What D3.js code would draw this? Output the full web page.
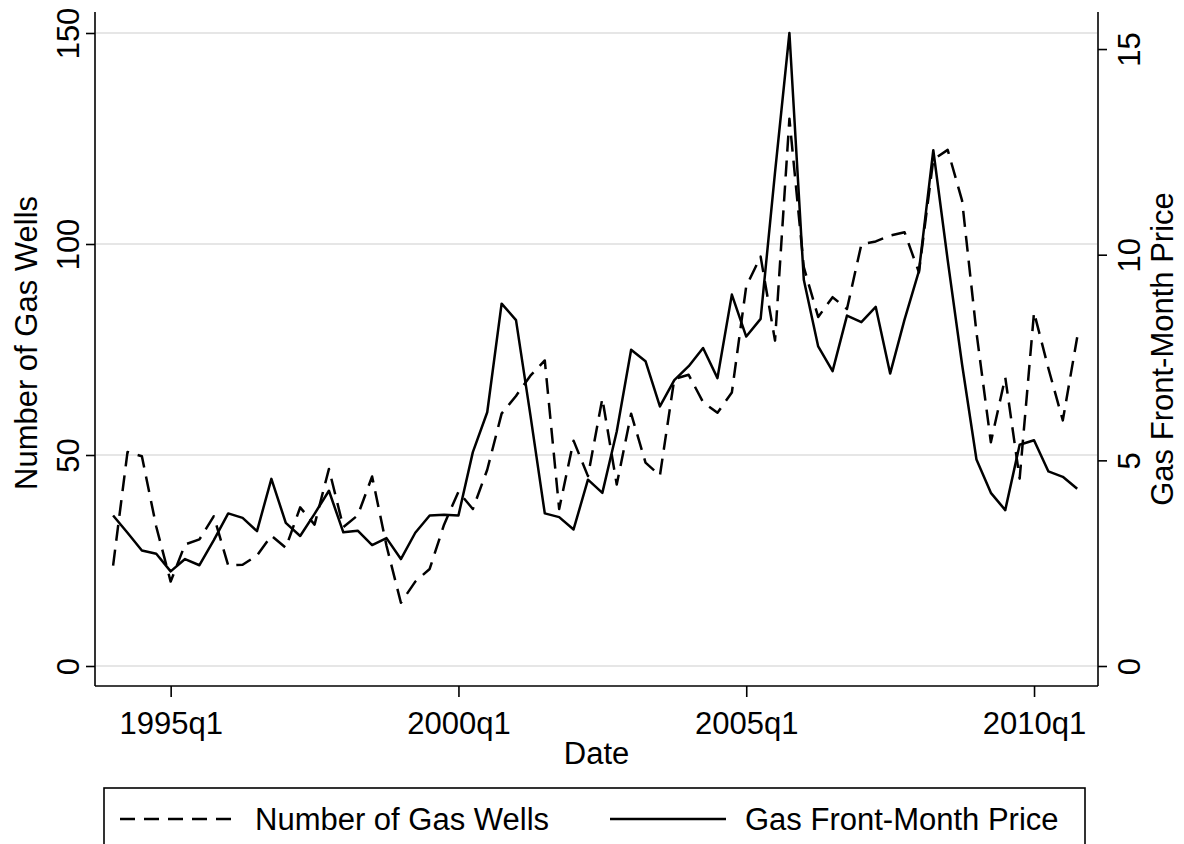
<!DOCTYPE html>
<html>
<head>
<meta charset="utf-8">
<script src="https://cdn.jsdelivr.net/npm/d3@7"></script>
<style>
  html, body { margin: 0; padding: 0; background: #ffffff; }
  svg { display: block; }
  text { font-family: "Liberation Sans", Arial, sans-serif; fill: #000; }
</style>
</head>
<body>
<svg id="chart" width="1184" height="844"></svg>
<script>
// ---------------- DATA ----------------
const quarters = [
  "1994q1","1994q2","1994q3","1994q4","1995q1","1995q2","1995q3","1995q4",
  "1996q1","1996q2","1996q3","1996q4","1997q1","1997q2","1997q3","1997q4",
  "1998q1","1998q2","1998q3","1998q4","1999q1","1999q2","1999q3","1999q4",
  "2000q1","2000q2","2000q3","2000q4","2001q1","2001q2","2001q3","2001q4",
  "2002q1","2002q2","2002q3","2002q4","2003q1","2003q2","2003q3","2003q4",
  "2004q1","2004q2","2004q3","2004q4","2005q1","2005q2","2005q3","2005q4",
  "2006q1","2006q2","2006q3","2006q4","2007q1","2007q2","2007q3","2007q4",
  "2008q1","2008q2","2008q3","2008q4","2009q1","2009q2","2009q3","2009q4",
  "2010q1","2010q2","2010q3","2010q4"
];

// Number of Gas Wells (left axis)
const gasWells = [
  23.8, 50.7, 49.7, 33.0, 20.0, 28.8, 30.0, 35.5,
  23.8, 24.0, 26.2, 30.9, 28.0, 37.6, 33.5, 46.7,
  32.9, 35.7, 44.9, 28.5, 15.0, 20.0, 23.0, 33.5,
  41.3, 37.2, 46.5, 59.8, 64.0, 68.8, 72.4, 37.2,
  53.4, 45.0, 63.4, 43.0, 59.8, 48.2, 45.1, 68.0,
  69.0, 62.5, 60.0, 64.8, 90.0, 97.0, 77.1, 129.7,
  94.5, 82.7, 87.4, 84.6, 99.9, 100.6, 102.0, 102.8,
  93.3, 120.0, 122.3, 110.3, 79.0, 53.0, 68.4, 44.4,
  83.8, 70.5, 58.2, 77.9
];

// Gas Front-Month Price (right axis)
const gasPrice = [
  3.66, 3.24, 2.81, 2.73, 2.30, 2.60, 2.45, 3.06,
  3.71, 3.60, 3.28, 4.55, 3.48, 3.16, 3.70, 4.26,
  3.25, 3.29, 2.94, 3.11, 2.60, 3.24, 3.66, 3.68,
  3.66, 5.20, 6.17, 8.81, 8.41, 6.10, 3.71, 3.62,
  3.32, 4.53, 4.21, 5.70, 7.69, 7.41, 6.31, 6.95,
  7.29, 7.73, 7.00, 9.03, 8.01, 8.44, 12.00, 15.39,
  9.39, 7.77, 7.17, 8.52, 8.36, 8.73, 7.11, 8.42,
  9.60, 12.54, 9.87, 7.33, 5.02, 4.21, 3.79, 5.38,
  5.49, 4.73, 4.60, 4.31
];

const xTickLabels = ["1995q1", "2000q1", "2005q1", "2010q1"];
const leftTicks = [0, 50, 100, 150];
const rightTicks = [0, 5, 10, 15];

const seriesNames = ["Number of Gas Wells", "Gas Front-Month Price"];
const xTitle = "Date";
const leftTitle = "Number of Gas Wells";
const rightTitle = "Gas Front-Month Price";

// ---------------- LAYOUT ----------------
const FS = 31;
const plot = { left: 95, right: 1098, top: 12, bottom: 686 };
const dataTop = 33, dataBottom = 666;

const svg = d3.select("#chart");

const x = d3.scaleLinear()
  .domain([0, quarters.length - 1])
  .range([113.1, 1077.2]);

const yL = d3.scaleLinear().domain([0, 150]).range([dataBottom, dataTop]);
const yR = d3.scaleLinear().domain([0, d3.max(gasPrice)]).range([dataBottom, dataTop]);

// gridlines
svg.append("g")
  .selectAll("line")
  .data(leftTicks)
  .join("line")
  .attr("x1", plot.left + 1).attr("x2", plot.right - 1)
  .attr("y1", d => yL(d)).attr("y2", d => yL(d))
  .attr("stroke", "#e6e6e6").attr("stroke-width", 2);

// left axis
const gL = svg.append("g").attr("transform", `translate(${plot.left},0)`)
  .call(d3.axisLeft(yL).tickValues(leftTicks).tickSize(9).tickSizeOuter(0));
gL.select(".domain").remove();
gL.append("line").attr("x1", 0).attr("x2", 0).attr("y1", plot.top).attr("y2", plot.bottom)
  .attr("stroke", "#000").attr("stroke-width", 1.6);
gL.selectAll(".tick line").attr("stroke", "#000").attr("stroke-width", 1.6);
gL.selectAll(".tick text")
  .attr("x", 0).attr("y", -16).attr("dy", 0)
  .attr("text-anchor", "middle")
  .attr("transform", "rotate(-90)")
  .style("font-size", FS + "px").style("font-family", "Liberation Sans, Arial, sans-serif");

// right axis
const gR = svg.append("g").attr("transform", `translate(${plot.right},0)`)
  .call(d3.axisRight(yR).tickValues(rightTicks).tickSize(9).tickSizeOuter(0));
gR.select(".domain").remove();
gR.append("line").attr("x1", 0).attr("x2", 0).attr("y1", plot.top).attr("y2", plot.bottom)
  .attr("stroke", "#000").attr("stroke-width", 1.6);
gR.selectAll(".tick line").attr("stroke", "#000").attr("stroke-width", 1.6);
gR.selectAll(".tick text")
  .attr("x", 0).attr("y", 42).attr("dy", 0)
  .attr("text-anchor", "middle")
  .attr("transform", "rotate(-90)")
  .style("font-size", FS + "px").style("font-family", "Liberation Sans, Arial, sans-serif");

// bottom axis
const xTickIdx = xTickLabels.map(l => quarters.indexOf(l));
const gB = svg.append("g").attr("transform", `translate(0,${plot.bottom})`)
  .call(d3.axisBottom(x).tickValues(xTickIdx).tickFormat(i => quarters[i]).tickSize(11).tickSizeOuter(0));
gB.select(".domain").remove();
gB.append("line").attr("x1", plot.left).attr("x2", plot.right).attr("y1", 0).attr("y2", 0)
  .attr("stroke", "#000").attr("stroke-width", 1.6);
gB.selectAll(".tick line").attr("stroke", "#000").attr("stroke-width", 1.6);
gB.selectAll(".tick text")
  .attr("y", 48).attr("dy", 0)
  .style("font-size", FS + "px").style("font-family", "Liberation Sans, Arial, sans-serif");

// axis titles
svg.append("text")
  .attr("x", (plot.left + plot.right) / 2).attr("y", 764)
  .attr("text-anchor", "middle").style("font-size", FS + "px")
  .text(xTitle);

const midY = (plot.top + plot.bottom) / 2;
svg.append("text")
  .attr("transform", `translate(37,${midY - 6}) rotate(-90)`)
  .attr("text-anchor", "middle").style("font-size", FS + "px")
  .text(leftTitle);
svg.append("text")
  .attr("transform", `translate(1173,${midY}) rotate(-90)`)
  .attr("text-anchor", "middle").style("font-size", FS + "px")
  .text(rightTitle);

// lines
const lineL = d3.line().x((d, i) => x(i)).y(d => yL(d));
const lineR = d3.line().x((d, i) => x(i)).y(d => yR(d));

svg.append("path").datum(gasWells)
  .attr("d", lineL).attr("fill", "none")
  .attr("stroke", "#000").attr("stroke-width", 2.5)
  .attr("stroke-dasharray", "16,9").attr("stroke-linejoin", "round");

svg.append("path").datum(gasPrice)
  .attr("d", lineR).attr("fill", "none")
  .attr("stroke", "#000").attr("stroke-width", 2.5)
  .attr("stroke-linejoin", "round");

// legend
const lg = svg.append("g");
lg.append("rect").attr("x", 104).attr("y", 788).attr("width", 981).attr("height", 90)
  .attr("fill", "none").attr("stroke", "#000").attr("stroke-width", 1.6);
lg.append("line").attr("x1", 120).attr("x2", 236).attr("y1", 819).attr("y2", 819)
  .attr("stroke", "#000").attr("stroke-width", 2.5).attr("stroke-dasharray", "15,9");
lg.append("text").attr("x", 255).attr("y", 830).style("font-size", FS + "px").text(seriesNames[0]);
lg.append("line").attr("x1", 610).attr("x2", 726).attr("y1", 819).attr("y2", 819)
  .attr("stroke", "#000").attr("stroke-width", 2.5);
lg.append("text").attr("x", 745).attr("y", 830).style("font-size", FS + "px").text(seriesNames[1]);
</script>
</body>
</html>
